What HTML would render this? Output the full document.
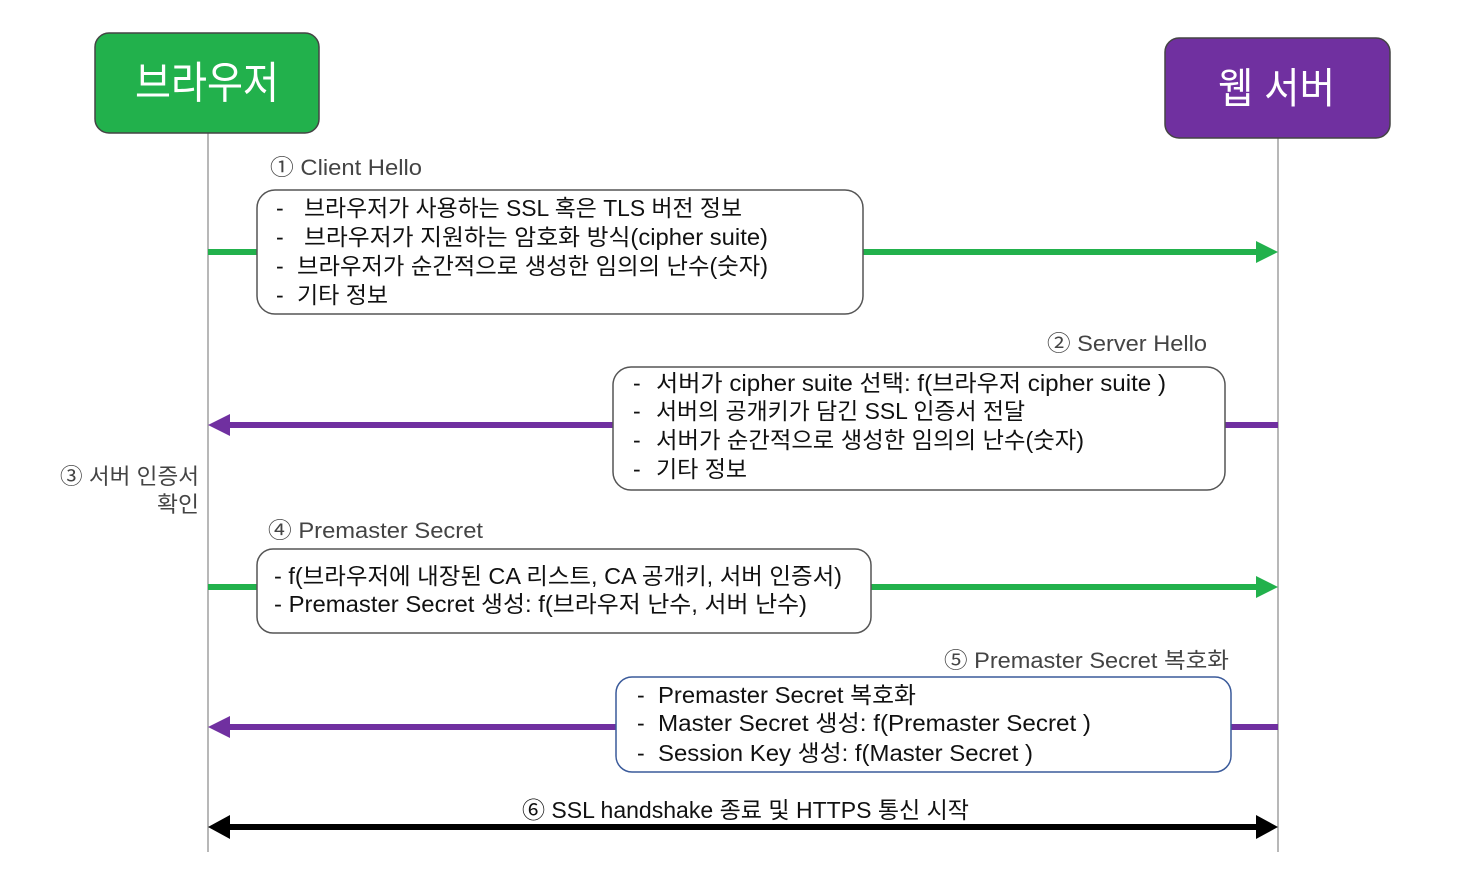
<!DOCTYPE html>
<html><head><meta charset="utf-8"><style>
html,body{margin:0;padding:0;background:#fff;}
svg{display:block;}
text{font-family:"Liberation Sans","Noto Sans CJK KR",sans-serif;}
.t{font-size:23px;fill:#111;}
.l{font-size:22px;fill:#444;}
</style></head><body>
<svg width="1458" height="890" viewBox="0 0 1458 890" xmlns="http://www.w3.org/2000/svg">
<!-- lifelines -->
<line x1="208" y1="133" x2="208" y2="852" stroke="#888" stroke-width="1.2"/>
<line x1="1278" y1="138" x2="1278" y2="852" stroke="#888" stroke-width="1.2"/>
<!-- headers -->
<rect x="95" y="33" width="224" height="100" rx="14" fill="#22b14c" stroke="#444" stroke-width="1.5"/>
<text x="135" y="98" font-size="44" fill="#fff" textLength="144" lengthAdjust="spacingAndGlyphs">브라우저</text>
<rect x="1165" y="38" width="225" height="100" rx="14" fill="#7030a0" stroke="#444" stroke-width="1.5"/>
<text x="1218" y="103" font-size="42" fill="#fff" textLength="117" lengthAdjust="spacingAndGlyphs">웹 서버</text>

<!-- arrow 1 -->
<line x1="208" y1="252" x2="1258" y2="252" stroke="#22b14c" stroke-width="6"/>
<polygon points="1256,241 1278,252 1256,263" fill="#22b14c"/>
<text class="l" x="270" y="175" textLength="152" lengthAdjust="spacingAndGlyphs">① Client Hello</text>
<rect x="257" y="190" width="606" height="124" rx="18" fill="#fff" stroke="#555" stroke-width="1.5"/>
<text class="t" x="276" y="216">-</text><text class="t" x="304" y="216" textLength="438" lengthAdjust="spacingAndGlyphs">브라우저가 사용하는 SSL 혹은 TLS 버전 정보</text>
<text class="t" x="276" y="245">-</text><text class="t" x="304" y="245" textLength="464" lengthAdjust="spacingAndGlyphs">브라우저가 지원하는 암호화 방식(cipher suite)</text>
<text class="t" x="276" y="274">-</text><text class="t" x="297" y="274" textLength="471" lengthAdjust="spacingAndGlyphs">브라우저가 순간적으로 생성한 임의의 난수(숫자)</text>
<text class="t" x="276" y="303">-</text><text class="t" x="297" y="303" textLength="91" lengthAdjust="spacingAndGlyphs">기타 정보</text>

<!-- arrow 2 -->
<line x1="228" y1="425" x2="1278" y2="425" stroke="#7030a0" stroke-width="6"/>
<polygon points="230,414 208,425 230,436" fill="#7030a0"/>
<text class="l" x="1047" y="351" textLength="160" lengthAdjust="spacingAndGlyphs">② Server Hello</text>
<rect x="613" y="367" width="612" height="123" rx="18" fill="#fff" stroke="#555" stroke-width="1.5"/>
<text class="t" x="633" y="391">-</text><text class="t" x="656" y="391" textLength="510" lengthAdjust="spacingAndGlyphs">서버가 cipher suite 선택: f(브라우저 cipher suite )</text>
<text class="t" x="633" y="419">-</text><text class="t" x="656" y="419" textLength="369" lengthAdjust="spacingAndGlyphs">서버의 공개키가 담긴 SSL 인증서 전달</text>
<text class="t" x="633" y="448">-</text><text class="t" x="656" y="448" textLength="428" lengthAdjust="spacingAndGlyphs">서버가 순간적으로 생성한 임의의 난수(숫자)</text>
<text class="t" x="633" y="477">-</text><text class="t" x="656" y="477" textLength="91" lengthAdjust="spacingAndGlyphs">기타 정보</text>

<!-- 3 -->
<text class="l" x="60" y="484" textLength="139" lengthAdjust="spacingAndGlyphs">③ 서버 인증서</text>
<text class="l" x="157" y="512" textLength="42" lengthAdjust="spacingAndGlyphs">확인</text>

<!-- arrow 4 -->
<line x1="208" y1="587" x2="1258" y2="587" stroke="#22b14c" stroke-width="6"/>
<polygon points="1256,576 1278,587 1256,598" fill="#22b14c"/>
<text class="l" x="268" y="538" textLength="215" lengthAdjust="spacingAndGlyphs">④ Premaster Secret</text>
<rect x="257" y="549" width="614" height="84" rx="16" fill="#fff" stroke="#555" stroke-width="1.5"/>
<text class="t" x="274" y="584" textLength="568" lengthAdjust="spacingAndGlyphs">- f(브라우저에 내장된 CA 리스트, CA 공개키, 서버 인증서)</text>
<text class="t" x="274" y="612" textLength="533" lengthAdjust="spacingAndGlyphs">- Premaster Secret 생성: f(브라우저 난수, 서버 난수)</text>

<!-- arrow 5 -->
<line x1="228" y1="727" x2="1278" y2="727" stroke="#7030a0" stroke-width="6"/>
<polygon points="230,716 208,727 230,738" fill="#7030a0"/>
<text class="l" x="944" y="668" textLength="285" lengthAdjust="spacingAndGlyphs">⑤ Premaster Secret 복호화</text>
<rect x="616" y="677" width="615" height="95" rx="16" fill="#fff" stroke="#3a5a9a" stroke-width="1.5"/>
<text class="t" x="637" y="703">-</text><text class="t" x="658" y="703" textLength="258" lengthAdjust="spacingAndGlyphs">Premaster Secret 복호화</text>
<text class="t" x="637" y="731">-</text><text class="t" x="658" y="731" textLength="433" lengthAdjust="spacingAndGlyphs">Master Secret 생성: f(Premaster Secret )</text>
<text class="t" x="637" y="761">-</text><text class="t" x="658" y="761" textLength="375" lengthAdjust="spacingAndGlyphs">Session Key 생성: f(Master Secret )</text>

<!-- arrow 6 -->
<line x1="226" y1="827" x2="1260" y2="827" stroke="#000" stroke-width="6"/>
<polygon points="230,815 208,827 230,839" fill="#000"/>
<polygon points="1256,815 1278,827 1256,839" fill="#000"/>
<text class="t" x="522" y="818" textLength="447" lengthAdjust="spacingAndGlyphs">⑥ SSL handshake 종료 및 HTTPS 통신 시작</text>
</svg>
</body></html>
